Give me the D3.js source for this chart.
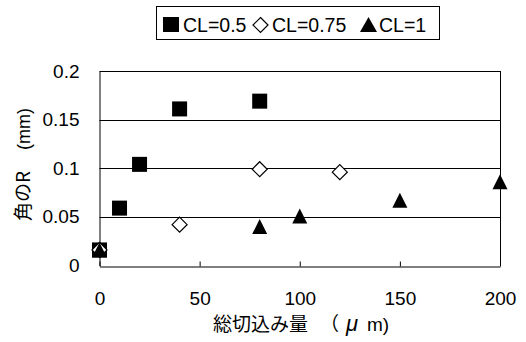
<!DOCTYPE html>
<html><head><meta charset="utf-8">
<script src="https://cdn.jsdelivr.net/npm/d3@7"></script>
<style>body{margin:0;background:#fff}svg{display:block}</style>
</head><body>
<script>
const seriesNames = ["CL=0.5", "CL=0.75", "CL=1"];
const cl05X = [0, 10, 20, 40, 80];
const cl05Y = [0.016, 0.059, 0.104, 0.161, 0.169];
const cl075X = [0, 40, 80, 120];
const cl075Y = [0.016, 0.042, 0.099, 0.096];
const cl1X = [0, 80, 100, 150, 200];
const cl1Y = [0.016, 0.040, 0.051, 0.067, 0.086];
const xTicks = [0, 50, 100, 150, 200];
const yTicks = [0, 0.05, 0.1, 0.15, 0.2];
const yTickLabels = ["0", "0.05", "0.1", "0.15", "0.2"];
const xTitleParts = ["総切込み量", "（", "μ", "m)"];
const yTitleParts = ["角のR", "(mm)"];

const W = 526, H = 342;
const svg = d3.select("body").append("svg").attr("width", W).attr("height", H);
const x = d3.scaleLinear().domain([0, 200]).range([99.5, 500]);
const y = d3.scaleLinear().domain([0, 0.2]).range([265.5, 71]);
const numFont = "'Liberation Sans', Arial, sans-serif";
const jpFont = "'Noto Sans CJK JP', sans-serif";

// gridlines
svg.append("g").selectAll("line").data(yTicks.slice(1)).join("line")
  .attr("x1", x(0)).attr("x2", x(200))
  .attr("y1", d => Math.round(y(d)) + 0.5).attr("y2", d => Math.round(y(d)) + 0.5)
  .attr("stroke", "#000").attr("stroke-width", 1);
// right border
svg.append("line").attr("x1", Math.round(x(200)) + 0.5).attr("x2", Math.round(x(200)) + 0.5)
  .attr("y1", y(0.2)).attr("y2", y(0)).attr("stroke", "#000");

// axes
const xAxis = d3.axisBottom(x).tickValues(xTicks).tickSizeInner(-5).tickSizeOuter(0).tickPadding(25);
const gx = svg.append("g").attr("transform", `translate(0,${Math.round(y(0)) + 0.5})`).call(xAxis);
gx.selectAll("text").attr("font-family", numFont).attr("font-size", 19).attr("fill", "#000");
gx.selectAll("line,path").attr("stroke", "#000");

const yAxis = d3.axisLeft(y).tickValues(yTicks).tickFormat((d, i) => yTickLabels[i]).tickSize(0).tickPadding(20);
const gy = svg.append("g").attr("transform", `translate(${Math.round(x(0)) - 0.5},0)`).call(yAxis);
gy.selectAll("text").attr("font-family", numFont).attr("font-size", 19).attr("fill", "#000");
gy.selectAll("path").attr("stroke", "#000");

// markers
const sq = 15, tri = 15, dia = 7.5;
const g = svg.append("g");
g.selectAll("rect").data(cl05X.map((v, i) => [v, cl05Y[i]])).join("rect")
  .attr("x", d => x(d[0]) - sq / 2).attr("y", d => y(d[1]) - sq / 2)
  .attr("width", sq).attr("height", sq).attr("fill", "#000");
g.selectAll("path.dia").data(cl075X.map((v, i) => [v, cl075Y[i]])).join("path").attr("class", "dia")
  .attr("d", d => { const cx = x(d[0]), cy = y(d[1]); return `M${cx},${cy - dia}L${cx + dia},${cy}L${cx},${cy + dia}L${cx - dia},${cy}Z`; })
  .attr("fill", "#fff").attr("stroke", "#000").attr("stroke-width", 1.2);
g.selectAll("path.tri").data(cl1X.map((v, i) => [v, cl1Y[i]])).join("path").attr("class", "tri")
  .attr("d", d => { const cx = x(d[0]), cy = y(d[1]); return `M${cx},${cy - tri / 2}L${cx + tri / 2},${cy + tri / 2}L${cx - tri / 2},${cy + tri / 2}Z`; })
  .attr("fill", "#000");

// x axis title
const xt = svg.append("text").attr("y", 331).attr("fill", "#000").attr("font-size", 19);
xt.append("tspan").attr("x", 213).attr("font-family", jpFont).text(xTitleParts[0]);
xt.append("tspan").attr("x", 320).attr("font-family", jpFont).text(xTitleParts[1]);
xt.append("tspan").attr("x", 346).attr("font-family", numFont).attr("font-size", 22).attr("font-style", "italic").text(xTitleParts[2]);
xt.append("tspan").attr("x", 367).attr("font-family", numFont).text(xTitleParts[3]);

// y axis title
const yt = svg.append("text").attr("transform", "translate(30,221) rotate(-90)").attr("fill", "#000");
yt.append("tspan").attr("x", 0).attr("font-family", jpFont).attr("font-size", 19).text(yTitleParts[0]);
yt.append("tspan").attr("x", 71).attr("font-family", numFont).attr("font-size", 18).text(yTitleParts[1]);

// legend
const lg = svg.append("g");
lg.append("rect").attr("x", 156.5).attr("y", 6.5).attr("width", 283).attr("height", 33)
  .attr("fill", "#fff").attr("stroke", "#000");
lg.append("rect").attr("x", 163).attr("y", 17).attr("width", 16).attr("height", 15).attr("fill", "#000");
lg.append("path").attr("d", "M260.5,17.5L268,25L260.5,32.5L253,25Z").attr("fill", "#fff").attr("stroke", "#000").attr("stroke-width", 1.2);
lg.append("path").attr("d", "M368.5,17L377,32L360,32Z").attr("fill", "#000");
const lx = [183, 272, 379];
lg.selectAll("text").data(seriesNames).join("text")
  .attr("x", (d, i) => lx[i]).attr("y", 32)
  .attr("font-family", numFont).attr("font-size", 19.5).attr("fill", "#000").text(d => d);
</script>
</body></html>
